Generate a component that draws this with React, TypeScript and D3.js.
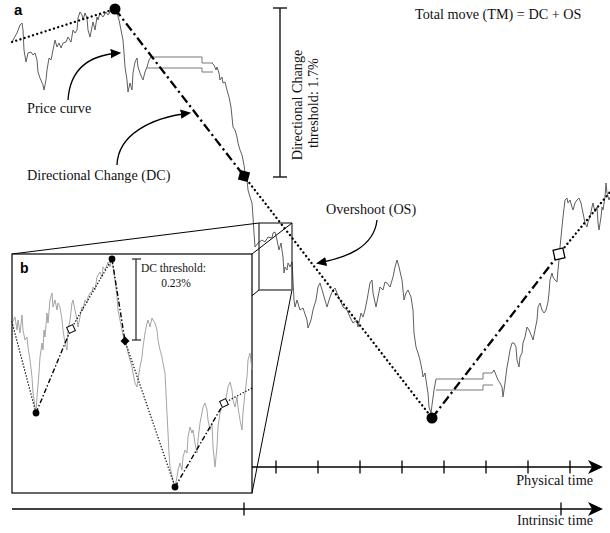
import React from 'react';
import * as d3 from 'd3';

// main price curve, time units vs price level (higher = up)
const priceSeg1: [number, number][] = [
  [12, 457], [13, 460], [17, 467], [20, 475], [22, 477], [23, 470], [24, 450], [26, 438], [28, 447],
  [31, 448], [33, 445], [35, 447], [37, 440], [38, 428], [40, 422], [43, 415], [44, 410], [46, 420],
  [47, 430], [49, 442], [51, 440], [53, 450], [55, 460], [57, 453], [59, 457], [61, 452], [63, 457],
  [66, 458], [68, 463], [71, 458], [73, 470], [75, 467], [77, 470], [78, 482], [80, 488], [82, 485],
  [83, 480], [85, 487], [87, 482], [88, 470], [90, 463], [92, 473], [93, 478], [95, 470], [97, 483],
  [98, 480], [100, 487], [103, 483], [106, 488], [108, 485], [111, 490], [113, 492], [116, 492],
  [117, 487], [119, 480], [121, 470], [123, 460], [124, 447], [125, 433], [127, 420], [128, 408],
  [130, 417], [132, 410], [133, 427], [135, 438], [137, 442], [138, 433], [140, 427], [142, 422],
  [143, 420], [145, 428], [147, 433], [149, 440], [151, 443],
];

const priceSeg2: [number, number][] = [
  [212, 437], [214, 435], [216, 430], [217, 433], [219, 427], [220, 420], [222, 423], [223, 417],
  [225, 418], [227, 410], [229, 403], [231, 393], [232, 383], [233, 373], [235, 370], [237, 363],
  [238, 357], [240, 350], [242, 345], [243, 340], [244, 335], [245, 327], [247, 320], [248, 310],
  [250, 303], [252, 297], [253, 283], [254, 267], [255, 253], [258, 257], [262, 260], [265, 258],
  [268, 263], [272, 262], [273, 267], [275, 268], [277, 260], [279, 250], [281, 257], [283, 243],
  [284, 227], [285, 233], [287, 230], [288, 237], [290, 233], [292, 238], [293, 220], [294, 200],
  [295, 193], [297, 200], [300, 190], [303, 192], [307, 180], [308, 172], [311, 180], [313, 190],
  [316, 200], [318, 213], [320, 217], [323, 207], [325, 200], [327, 193], [330, 203], [333, 210],
  [335, 212], [337, 207], [340, 200], [343, 193], [347, 190], [350, 183], [353, 177], [357, 180],
  [358, 173], [361, 187], [363, 183], [365, 190], [367, 200], [370, 217], [372, 220], [373, 207],
  [376, 193], [378, 203], [380, 213], [383, 210], [385, 218], [387, 217], [390, 213], [393, 223],
  [395, 233], [397, 240], [399, 233], [402, 220], [404, 200], [406, 207], [408, 210], [411, 203],
  [413, 190], [414, 167], [416, 153], [418, 147], [420, 140], [422, 130], [423, 123], [425, 127],
  [427, 113], [428, 107], [429, 93], [431, 87], [432, 95], [434, 110], [436, 121],
];

const priceSeg3: [number, number][] = [
  [492, 127], [494, 130], [496, 125], [498, 120], [500, 117], [502, 113], [503, 103], [505, 117],
  [507, 133], [508, 138], [510, 150], [512, 157], [514, 157], [516, 153], [517, 140], [519, 133],
  [520, 143], [522, 147], [523, 157], [525, 163], [527, 173], [529, 170], [532, 163], [533, 160],
  [535, 170], [537, 180], [538, 193], [540, 197], [542, 190], [544, 187], [546, 190], [548, 198],
  [549, 207], [550, 220], [552, 227], [553, 223], [555, 220], [557, 218], [558, 230], [559, 240],
  [560, 253], [561, 263], [562, 273], [563, 283], [565, 300], [567, 302], [568, 297], [570, 300],
  [572, 293], [573, 290], [575, 297], [577, 300], [579, 302], [581, 297], [583, 287], [585, 277],
  [587, 273], [588, 278], [590, 283], [592, 293], [593, 297], [595, 288], [597, 293], [598, 277],
  [599, 270], [601, 283], [602, 293], [603, 290], [605, 303], [606, 317], [607, 307], [609, 300],
  [610, 303],
];

// compressed-time breaks (double lines)
const break1Upper: [number, number][] = [[151, 443], [202, 443], [202, 437], [213, 437]];
const break1Lower: [number, number][] = [[147, 432], [202, 432], [202, 428], [213, 428]];
const break2Upper: [number, number][] = [[436, 121], [483, 121], [483, 127], [492, 127]];
const break2Lower: [number, number][] = [[436, 110], [483, 110], [483, 115], [493, 115]];

// directional change skeleton (1.7%)
const dcPoints: [number, number][] = [[12, 458], [115, 491], [244, 324], [432, 82], [559, 246], [610, 308]];
const dcStyles = ['dot', 'dashdot', 'dot', 'dashdot', 'dot'];
const extremes: [number, number][] = [[115, 491], [432, 82]];
const dcConfirmDown: [number, number][] = [[244, 324]];
const dcConfirmUp: [number, number][] = [[559, 246]];

// inset b price curve (local time, local price)
const insetPrice: [number, number][] = [
  [0, 170], [3, 176], [5, 163], [6, 173], [8, 160], [10, 178], [11, 163], [13, 153], [15, 156],
  [16, 146], [18, 133], [20, 116], [21, 100], [23, 86], [24, 81], [25, 96], [27, 120], [28, 136],
  [30, 150], [31, 143], [32, 163], [33, 156], [35, 180], [36, 170], [38, 193], [40, 200], [41, 186],
  [43, 193], [45, 183], [46, 190], [48, 186], [50, 173], [51, 163], [53, 150], [55, 143], [56, 163],
  [58, 173], [60, 190], [61, 193], [63, 183], [65, 173], [66, 166], [68, 176], [70, 186], [71, 183],
  [73, 193], [75, 190], [76, 196], [78, 200], [80, 201], [81, 206], [83, 203], [85, 216], [86, 218],
  [88, 221], [90, 216], [91, 226], [93, 223], [95, 228], [96, 231], [98, 226], [100, 234], [101, 226],
  [103, 213], [105, 196], [106, 183], [108, 173], [110, 163], [112, 153], [115, 146], [116, 140],
  [118, 133], [120, 126], [121, 120], [123, 110], [125, 106], [126, 113], [128, 126], [130, 136],
  [131, 146], [133, 160], [135, 170], [136, 173], [138, 166], [140, 175], [141, 173], [143, 170],
  [145, 163], [146, 153], [148, 143], [150, 136], [151, 130], [153, 120], [154, 100], [155, 80],
  [156, 60], [157, 40], [158, 26], [161, 13], [163, 6], [165, 16], [166, 23], [168, 30], [170, 23],
  [171, 36], [173, 43], [175, 40], [176, 56], [178, 66], [180, 60], [181, 63], [183, 50], [185, 40],
  [186, 53], [188, 70], [190, 80], [191, 86], [193, 90], [195, 83], [196, 73], [198, 63], [200, 70],
  [201, 46], [203, 26], [205, 46], [206, 66], [208, 80], [210, 86], [211, 93], [213, 90], [215, 100],
  [216, 106], [218, 111], [220, 103], [221, 93], [223, 86], [225, 96], [226, 86], [228, 73], [230, 63],
  [231, 80], [233, 100], [235, 116], [236, 133], [238, 140], [240, 123],
];

// inset directional change skeleton (0.23%)
const insetDc: [number, number][] = [[0, 171], [24, 80], [59, 164], [100, 234], [113, 152], [163, 6], [212, 90], [240, 105]];
const insetDcStyles = ['dot', 'dashdot', 'dot', 'dashdot', 'dot', 'dashdot', 'dot'];
const insetExtremes: [number, number][] = [[24, 80], [100, 234], [163, 6]];
const insetConfirmDown: [number, number][] = [[113, 152]];
const insetConfirmUp: [number, number][] = [[59, 164], [212, 90]];

const physicalTicks = [276, 318, 360, 402, 444, 486, 528, 570];
const intrinsicTicks = [244, 561];

// annotation arrows: start, control 1, control 2, end (chart units)
const arrows: [number, number][][] = [
  [[68, 400], [70, 432], [90, 445], [119, 447]],
  [[117, 335], [118, 365], [150, 382], [189, 387]],
  [[377, 280], [374, 252], [345, 242], [318, 237]],
];

const W = 610;
const H = 533;
const serif = "'Liberation Serif', 'Times New Roman', serif";
const sans = "'Liberation Sans', Arial, sans-serif";

export default function App() {
  const x = d3.scaleLinear().domain([0, 610]).range([0, 610]);
  const y = d3.scaleLinear().domain([0, 500]).range([500, 0]);
  const ix = d3.scaleLinear().domain([0, 240]).range([12, 252]);
  const iy = d3.scaleLinear().domain([0, 239]).range([493, 254]);

  const line = d3.line<[number, number]>().x((d) => x(d[0])).y((d) => y(d[1]));
  const iline = d3.line<[number, number]>().x((d) => ix(d[0])).y((d) => iy(d[1]));

  const dotStyle = { stroke: '#000', strokeWidth: 2.3, strokeDasharray: '0.1 4.3', strokeLinecap: 'round' as const, fill: 'none' };
  const dashStyle = { stroke: '#000', strokeWidth: 2.3, strokeDasharray: '9 3.5 2.2 3.5', fill: 'none' };
  const iDotStyle = { stroke: '#000', strokeWidth: 1.4, strokeDasharray: '0.1 3', strokeLinecap: 'round' as const, fill: 'none' };
  const iDashStyle = { stroke: '#000', strokeWidth: 1.4, strokeDasharray: '5 2.2 1.4 2.2', fill: 'none' };

  // zoom window in main chart and inset frame
  const zoomBox = { x0: 259, y0: 223, x1: 292, y1: 290 };
  const inset = { x0: ix(0), y0: iy(239), x1: ix(240), y1: iy(0) };

  const axisY1 = 467;
  const axisY2 = 509;
  const arrowHead = (yy: number) => `M603,${yy} L588,${yy - 7} L592,${yy} L588,${yy + 7} Z`;

  return (
    <svg width={W} height={H} style={{ position: 'absolute', left: 0, top: 0, background: '#fff' }}>
      <defs>
        <marker id="ah" viewBox="0 0 10 10" refX="8" refY="5" markerWidth="8" markerHeight="8" orient="auto">
          <path d="M0,0.5 L10,5 L0,9.5 Z" fill="#000" />
        </marker>
      </defs>
      <rect width={W} height={H} fill="#fff" />

      {/* price curve */}
      {[priceSeg1, priceSeg2, priceSeg3].map((s, i) => (
        <path key={i} d={line(s)!} fill="none" stroke="#5e5e5e" strokeWidth={1} />
      ))}
      {[break1Upper, break1Lower, break2Upper, break2Lower].map((s, i) => (
        <path key={i} d={line(s)!} fill="none" stroke="#6a6a6a" strokeWidth={0.9} />
      ))}

      {/* zoom frustum */}
      <g stroke="#000" strokeWidth={1} fill="none">
        <line x1={zoomBox.x0} y1={zoomBox.y0} x2={inset.x0} y2={inset.y0} />
        <line x1={zoomBox.x1} y1={zoomBox.y0} x2={inset.x1} y2={inset.y0} />
        <line x1={zoomBox.x1} y1={zoomBox.y1} x2={inset.x1} y2={inset.y1} />
        <line x1={zoomBox.x0} y1={zoomBox.y1} x2={inset.x0} y2={inset.y1} />
        <path d={`M${zoomBox.x0},${zoomBox.y1} V${zoomBox.y0} H${zoomBox.x1} V${zoomBox.y1}`} />
        <line x1={zoomBox.x0} y1={zoomBox.y1} x2={zoomBox.x1} y2={zoomBox.y1} stroke="#555" strokeWidth={1.4} />
      </g>

      {/* DC skeleton */}
      {dcStyles.map((st, i) => (
        <path key={i} d={line([dcPoints[i], dcPoints[i + 1]])!} style={st === 'dot' ? dotStyle : dashStyle} />
      ))}
      {extremes.map((d, i) => (
        <circle key={i} cx={x(d[0])} cy={y(d[1])} r={5.5} fill="#000" />
      ))}
      {dcConfirmDown.map((d, i) => (
        <rect key={i} x={-5} y={-5} width={10} height={10} fill="#000"
          transform={`translate(${x(d[0])},${y(d[1])}) rotate(15)`} />
      ))}
      {dcConfirmUp.map((d, i) => (
        <rect key={i} x={-5} y={-5} width={10} height={10} fill="#fff" stroke="#000" strokeWidth={1.3}
          transform={`translate(${x(d[0])},${y(d[1])}) rotate(-12)`} />
      ))}

      {/* inset b */}
      <rect x={inset.x0} y={inset.y0} width={inset.x1 - inset.x0} height={inset.y1 - inset.y0}
        fill="#fff" stroke="#000" strokeWidth={1.2} />
      <path d={iline(insetPrice)!} fill="none" stroke="#9a9a9a" strokeWidth={0.9} />
      {insetDcStyles.map((st, i) => (
        <path key={i} d={iline([insetDc[i], insetDc[i + 1]])!} style={st === 'dot' ? iDotStyle : iDashStyle} />
      ))}
      {insetExtremes.map((d, i) => (
        <circle key={i} cx={ix(d[0])} cy={iy(d[1])} r={3.4} fill="#000" />
      ))}
      {insetConfirmDown.map((d, i) => (
        <rect key={i} x={-3.2} y={-3.2} width={6.4} height={6.4} fill="#000"
          transform={`translate(${ix(d[0])},${iy(d[1])}) rotate(45)`} />
      ))}
      {insetConfirmUp.map((d, i) => (
        <rect key={i} x={-3.3} y={-3.3} width={6.6} height={6.6} fill="#fff" stroke="#000" strokeWidth={1}
          transform={`translate(${ix(d[0])},${iy(d[1])}) rotate(-25)`} />
      ))}

      {/* threshold bars */}
      <g stroke="#222" strokeWidth={1.5}>
        <line x1={280} y1={y(492)} x2={280} y2={y(323)} />
        <line x1={273} y1={y(492)} x2={287} y2={y(492)} />
        <line x1={273} y1={y(323)} x2={287} y2={y(323)} />
      </g>
      <g stroke="#222" strokeWidth={1.2}>
        <line x1={136} y1={iy(234)} x2={136} y2={iy(153)} />
        <line x1={132} y1={iy(234)} x2={141} y2={iy(234)} />
        <line x1={132} y1={iy(153)} x2={141} y2={iy(153)} />
      </g>

      {/* annotation arrows */}
      {arrows.map((a, i) => (
        <path key={i}
          d={`M${x(a[0][0])},${y(a[0][1])} C${x(a[1][0])},${y(a[1][1])} ${x(a[2][0])},${y(a[2][1])} ${x(a[3][0])},${y(a[3][1])}`}
          fill="none" stroke="#000" strokeWidth={1.3} markerEnd="url(#ah)" />
      ))}

      {/* text */}
      <g fontFamily={serif} fontSize={14.2} fill="#111">
        <text x={27} y={113}>Price curve</text>
        <text x={27} y={180}>Directional Change (DC)</text>
        <text x={326} y={214}>Overshoot (OS)</text>
        <text x={415} y={19}>Total move (TM) = DC + OS</text>
        <text transform="translate(302,105) rotate(-90)" textAnchor="middle">Directional Change</text>
        <text transform="translate(318,103) rotate(-90)" textAnchor="middle">threshold: 1.7%</text>
        <text x={593} y={485} textAnchor="end">Physical time</text>
        <text x={593} y={525} textAnchor="end">Intrinsic time</text>
        <text x={141} y={272} fontSize={11.5}>DC threshold:</text>
        <text x={176} y={287} fontSize={11.5} textAnchor="middle">0.23%</text>
      </g>
      <text x={14} y={15} fontFamily={sans} fontWeight="bold" fontSize={15}>a</text>
      <text x={20} y={273} fontFamily={sans} fontWeight="bold" fontSize={14}>b</text>

      {/* time axes */}
      <g stroke="#000" strokeWidth={1.5}>
        <line x1={inset.x1} y1={axisY1} x2={596} y2={axisY1} />
        <line x1={12} y1={axisY2} x2={596} y2={axisY2} />
        {physicalTicks.map((t) => (
          <line key={t} x1={x(t)} x2={x(t)} y1={axisY1 - 6.5} y2={axisY1 + 6.5} strokeWidth={1.3} />
        ))}
        {intrinsicTicks.map((t) => (
          <line key={t} x1={x(t)} x2={x(t)} y1={axisY2 - 6.5} y2={axisY2 + 6.5} strokeWidth={1.3} />
        ))}
      </g>
      <path d={arrowHead(axisY1)} fill="#000" />
      <path d={arrowHead(axisY2)} fill="#000" />
    </svg>
  );
}
